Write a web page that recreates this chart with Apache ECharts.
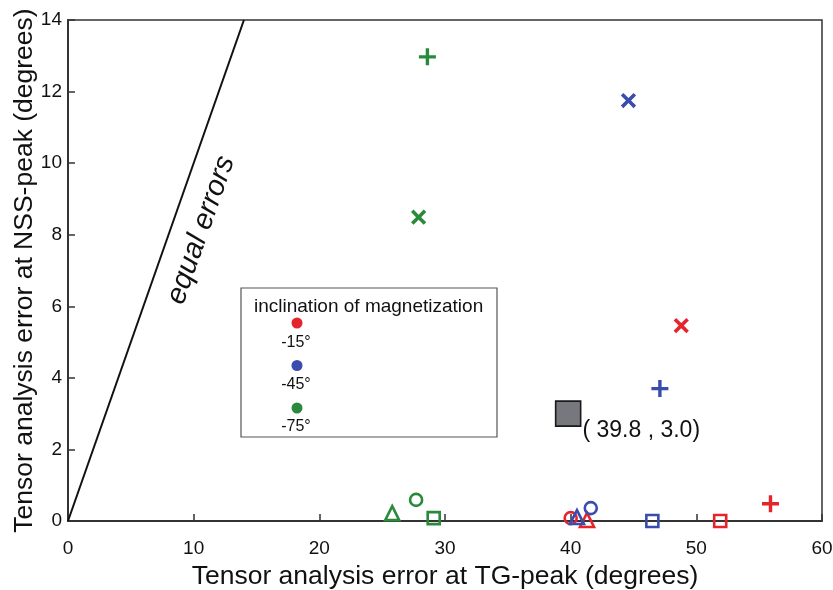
<!DOCTYPE html>
<html>
<head>
<meta charset="utf-8">
<script src="https://cdn.jsdelivr.net/npm/echarts@6/dist/echarts.min.js"></script>
<style>
  html, body { margin: 0; padding: 0; background: #fff; }
  #chart { width: 833px; height: 590px; }
</style>
</head>
<body>
<div id="chart"></div>
<script>
// Tensor analysis errors: TG-peak (x) vs NSS-peak (y), by inclination of magnetization
const inclinations = ['-15°', '-45°', '-75°'];
const inclinationColors = ['#e4262c', '#3a4cae', '#2a8a3c'];

// [marker, TG-peak error, NSS-peak error]
const points15 = [
  ['plus', 55.9, 0.48],
  ['cross', 48.8, 5.46],
  ['circle', 40.0, 0.08],
  ['triangle', 41.3, 0.03],
  ['square', 51.9, 0.0]
];
const points45 = [
  ['cross', 44.6, 11.75],
  ['plus', 47.1, 3.7],
  ['circle', 41.6, 0.36],
  ['triangle', 40.5, 0.11],
  ['square', 46.5, 0.0]
];
const points75 = [
  ['plus', 28.6, 12.97],
  ['cross', 27.9, 8.49],
  ['triangle', 25.8, 0.22],
  ['circle', 27.7, 0.59],
  ['square', 29.1, 0.08]
];
const highlightPoint = [39.8, 3.0];
const equalErrors = [0, 14];
const xTicks = [0, 10, 20, 30, 40, 50, 60];
const yTicks = [0, 2, 4, 6, 8, 10, 12, 14];

const plusPath = 'path://M4,0H6V4H10V6H6V10H4V6H0V4H4Z';

function markerItem(p, color) {
  const [kind, x, y] = p;
  const item = { value: [x, y] };
  if (kind === 'plus' || kind === 'cross') {
    item.symbol = plusPath;
    item.symbolSize = kind === 'plus' ? 17 : 18;
    item.symbolRotate = kind === 'cross' ? 45 : 0;
    item.itemStyle = { color: color, borderWidth: 0, opacity: 1 };
  } else {
    item.symbol = kind === 'circle' ? 'circle' : kind === 'triangle' ? 'triangle' : 'rect';
    item.symbolSize = kind === 'triangle' ? 14 : 12;
    item.itemStyle = { color: 'rgba(0,0,0,0)', borderColor: color, borderWidth: 2.6, opacity: 1 };
  }
  return item;
}

const groups = [points15, points45, points75];
const font = '"Liberation Sans", Arial, sans-serif';

const chart = echarts.init(document.getElementById('chart'), null, { renderer: 'canvas' });

const series = [
  {
    type: 'line',
    data: equalErrors.map(v => [v, v]),
    symbol: 'none',
    lineStyle: { color: '#111', width: 2 },
    silent: true,
    z: 1
  }
];
groups.forEach((pts, i) => {
  series.push({
    type: 'scatter',
    name: inclinations[i],
    data: pts.map(p => markerItem(p, inclinationColors[i])),
    itemStyle: { opacity: 1 },
    z: 3
  });
});
series.push({
  type: 'scatter',
  data: [highlightPoint],
  symbol: 'rect',
  symbolSize: 25,
  itemStyle: { color: '#77787e', borderColor: '#1a1a1a', borderWidth: 1.6, opacity: 1 },
  label: {
    show: true,
    position: 'right',
    distance: 1,
    offset: [0, 17],
    formatter: p => '( ' + p.value[0].toFixed(1) + ' , ' + p.value[1].toFixed(1) + ')',
    fontFamily: font,
    fontSize: 23,
    color: '#111'
  },
  z: 4
});

// legend panel
const legendX = 241, legendY = 288;
const legendChildren = [
  {
    type: 'rect',
    shape: { x: 0, y: 0, width: 256, height: 149 },
    style: { fill: '#fff', stroke: '#555', lineWidth: 1.2 }
  },
  {
    type: 'text',
    x: 13, y: 19,
    style: { text: 'inclination of magnetization', font: '19px ' + font, fill: '#111', verticalAlign: 'middle' }
  }
];
inclinations.forEach((lab, i) => {
  legendChildren.push({
    type: 'circle',
    shape: { cx: 56, cy: 35 + i * 42.5, r: 5.5 },
    style: { fill: inclinationColors[i] }
  });
  legendChildren.push({
    type: 'text',
    x: 55, y: 55 + i * 42,
    style: { text: lab, font: '16px ' + font, fill: '#111', align: 'center', verticalAlign: 'middle' }
  });
});

chart.setOption({
  animation: false,
  backgroundColor: '#fff',
  grid: {
    left: 68, right: 11, top: 20, bottom: 69,
    containLabel: false,
    outerBoundsMode: 'none',
    show: true, borderColor: '#333', borderWidth: 1.5, backgroundColor: 'transparent'
  },
  xAxis: {
    type: 'value',
    min: xTicks[0], max: xTicks[xTicks.length - 1], interval: 10,
    name: 'Tensor analysis error at TG-peak (degrees)',
    nameLocation: 'middle', nameGap: 42,
    nameTextStyle: { fontFamily: font, fontSize: 26.5, color: '#111' },
    axisLine: { show: true, lineStyle: { color: '#333', width: 2 } },
    axisTick: { show: true, inside: true, length: 7, lineStyle: { color: '#333', width: 1.5 } },
    axisLabel: { fontFamily: font, fontSize: 19, color: '#111', margin: 18 },
    splitLine: { show: false }
  },
  yAxis: {
    type: 'value',
    min: yTicks[0], max: yTicks[yTicks.length - 1], interval: 2,
    name: 'Tensor analysis error at NSS-peak (degrees)',
    nameLocation: 'middle', nameGap: 30,
    nameMoveOverlap: false,
    nameTextStyle: { fontFamily: font, fontSize: 26.5, color: '#111' },
    axisLine: { show: true, lineStyle: { color: '#333', width: 2 } },
    axisTick: { show: true, inside: true, length: 7, lineStyle: { color: '#333', width: 1.5 } },
    axisLabel: { fontFamily: font, fontSize: 19, color: '#111', margin: 6 },
    splitLine: { show: false }
  },
  graphic: [
    {
      type: 'group',
      x: legendX, y: legendY,
      children: legendChildren,
      z: 10
    },
    {
      type: 'text',
      x: 201, y: 230,
      rotation: 1.232,
      style: {
        text: 'equal errors',
        font: 'italic 29px ' + font,
        fill: '#111',
        align: 'center',
        verticalAlign: 'middle'
      },
      z: 10
    }
  ],
  series: series
});
</script>
</body>
</html>
